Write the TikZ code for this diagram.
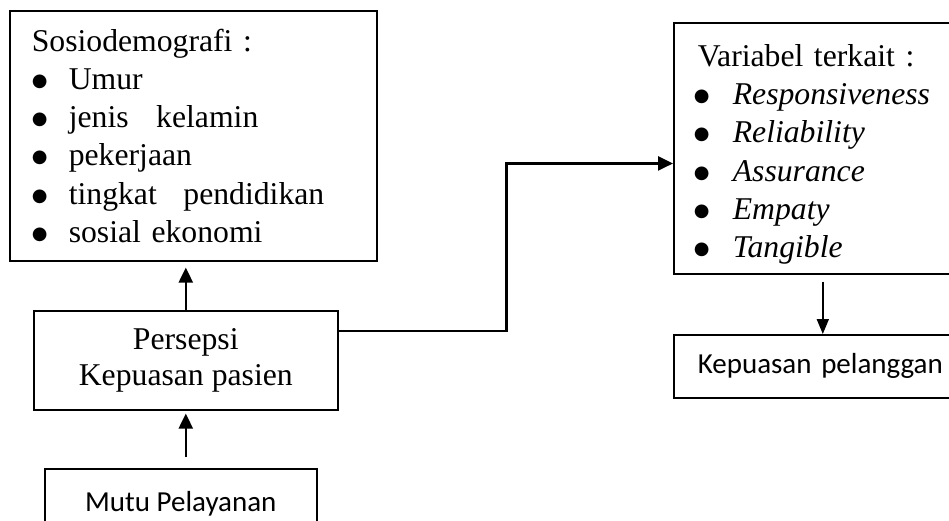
\documentclass[tikz,border=0pt]{standalone}
\usepackage{fontspec}
\setmainfont{Liberation Serif}
\newfontfamily\calibri{Carlito}
\newfontfamily\dejavu{DejaVu Sans}
\usetikzlibrary{arrows.meta,calc}
\newcommand{\titik}{\raisebox{3pt}{\dejavu\fontsize{18}{0}\selectfont ●}}
\newcommand{\butir}[2][37pt]{\makebox[#1][l]{\titik}#2}

\begin{document}
\begin{tikzpicture}[x=1pt,y=-1pt,
    kotak/.style={draw,line width=1.6pt,anchor=north west,inner sep=0pt,align=left,font=\fontsize{31.7}{38.3}\selectfont},
    panah/.style={line width=2.4pt,-{Triangle[length=15pt,width=14pt]}}]
  \useasboundingbox (0,0) rectangle (949,520);
  \clip (0,0) rectangle (949,520);

  \node[kotak,minimum width=367pt,minimum height=250pt,text width=323pt] (sosio) at (9,10)
    {Sosiodemografi :\\ \butir{Umur}\\ \butir{jenis\hspace{17pt} kelamin}\\ \butir{pekerjaan}\\
     \butir{tingkat\hspace{16pt} pendidikan}\\ \butir{sosial ekonomi}};
  \node[kotak,align=center,minimum width=304pt,minimum height=99pt,font=\fontsize{31.7}{36}\selectfont] (persepsi) at (33,310)
    {Persepsi\\ Kepuasan pasien};
  \node[kotak,align=center,minimum width=272pt,minimum height=70pt,font=\calibri\fontsize{29}{34}\selectfont] (mutu) at (44,468)
    {Mutu Pelayanan};
  \node[kotak,minimum width=298pt,minimum height=251pt,text width=250pt] (variabel) at (673,22)
    {\rule{0pt}{34pt}Variabel terkait :\\ \hspace*{-4pt}\butir[39pt]{\textit{Responsiveness}}\\ \hspace*{-4pt}\butir[39pt]{\textit{Reliability}}\\
     \hspace*{-4pt}\butir[39pt]{\textit{Assurance}}\\ \hspace*{-4pt}\butir[39pt]{\textit{Empaty}}\\ \hspace*{-4pt}\butir[39pt]{\textit{Tangible}}};
  \node[kotak,minimum width=298pt,minimum height=63pt,text width=250pt,font=\calibri\fontsize{29}{34}\selectfont] (puas) at (673,334)
    {Kepuasan pelanggan};

  \draw[panah,shorten >=6pt] (persepsi.north) -- (persepsi.north |- sosio.south);
  \draw[panah,shorten <=11pt,shorten >=3pt] (persepsi.south |- mutu.north) -- (persepsi.south);
  \draw[panah] ($(persepsi.north east)!.21!(persepsi.south east)$) -- ++(168,0)
    |- ($(variabel.north west)!.56!(variabel.south west)$);
  \draw[line width=1.8pt,-{Triangle[length=15pt,width=12pt]},shorten <=7pt] (variabel.south) -- (puas.north);
\end{tikzpicture}
\end{document}
